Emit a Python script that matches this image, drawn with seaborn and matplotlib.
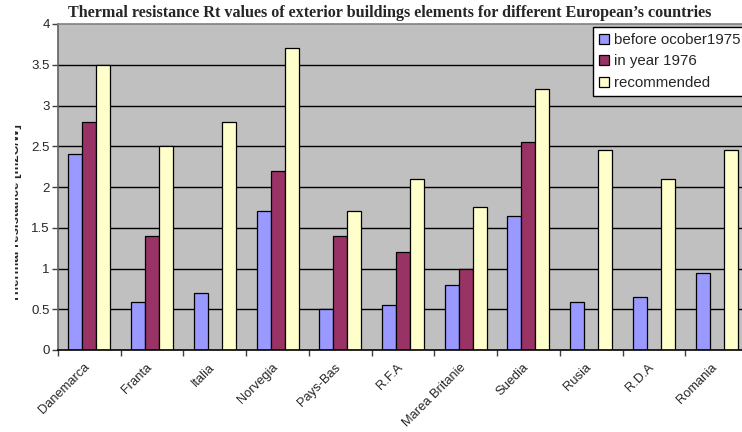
import matplotlib
matplotlib.use("Agg")
import matplotlib.pyplot as plt
import matplotlib.patches as mpatches
from matplotlib.transforms import Bbox, ScaledTranslation
import seaborn as sns
import pandas as pd
import numpy as np

countries = ["Danemarca", "Franta", "Italia", "Norvegia", "Pays-Bas", "R.F.A",
             "Marea Britanie", "Suedia", "Rusia", "R.D.A", "Romania"]
before_oct_1975 = [2.4, 0.59, 0.7, 1.7, 0.5, 0.55, 0.8, 1.64, 0.59, 0.65, 0.94]
year_1976 = [2.8, 1.4, np.nan, 2.2, 1.4, 1.2, 1.0, 2.55, np.nan, np.nan, np.nan]
recommended = [3.5, 2.5, 2.8, 3.7, 1.7, 2.1, 1.75, 3.2, 2.45, 2.1, 2.45]
series_names = ["before ocober1975", "in year 1976", "recommended"]
series_colors = ["#9999FF", "#993366", "#FFFFCC"]
y_ticks = [0, 0.5, 1, 1.5, 2, 2.5, 3, 3.5, 4]
y_tick_labels = ["0", "0.5", "1", "1.5", "2", "2.5", "3", "3.5", "4"]

df = pd.DataFrame({
    "country": countries * 3,
    "series": sum([[s] * len(countries) for s in series_names], []),
    "value": before_oct_1975 + year_1976 + recommended,
})

sns.set_style("white")
plt.rcParams["font.family"] = ["Liberation Sans", "DejaVu Sans"]

W, H = 742, 432
fig = plt.figure(figsize=(W / 100, H / 100), dpi=100)
fig.patch.set_facecolor("white")
ax = fig.add_axes([58 / W, 82 / H, 690 / W, 326 / H])
ax.set_facecolor("#C0C0C0")

sns.barplot(data=df, x="country", y="value", hue="series", order=countries,
            hue_order=series_names, palette=series_colors, width=0.67,
            edgecolor="black", linewidth=0.9, saturation=1, ax=ax,
            errorbar=None, zorder=3, legend=False)

ax.set_xlim(-0.5, len(countries) - 0.5)
ax.set_ylim(0, 4)

# horizontal gridlines
ax.set_yticks(y_ticks)
ax.set_yticklabels(y_tick_labels, fontsize=9.5)
for y in y_ticks[1:-1]:
    ax.axhline(y, color="black", lw=1.0, zorder=1)

ax.tick_params(axis="y", which="major", direction="out", length=4, width=1,
               color="#404040", left=True, pad=2)

# category labels at centres, tick marks at category boundaries
ax.set_xticks(range(len(countries)))
ax.set_xticklabels(countries, rotation=45, ha="right", rotation_mode="anchor",
                   fontsize=9.3)
ax.tick_params(axis="x", which="major", length=0, pad=8)
shift = ScaledTranslation(-6 / 100, 0, fig.dpi_scale_trans)
for lbl in ax.get_xticklabels():
    lbl.set_transform(lbl.get_transform() + shift)
ax.set_xticks(np.arange(-0.5, len(countries), 1.0), minor=True)
ax.tick_params(axis="x", which="minor", direction="out", length=4, width=1,
               color="#404040", bottom=True)

ax.set_xlabel("")
ax.set_ylabel("")
for side in ["top", "right"]:
    ax.spines[side].set_color("#808080")
    ax.spines[side].set_linewidth(1.2)
ax.spines["left"].set_color("#606060")
ax.spines["left"].set_linewidth(1.2)
ax.spines["bottom"].set_color("black")
ax.spines["bottom"].set_linewidth(1.2)
ax.spines["bottom"].set_zorder(5)

# axis title, trimmed on its left side by the chart frame
ylab = fig.text(22 / W, 1 - 213 / H, "Thermal resistance [m2C/W]",
                rotation=90, ha="right", va="center", fontsize=9.5,
                fontweight="bold")
ylab.set_clip_box(Bbox.from_extents(15, 0, W, H))
ylab.set_clip_on(True)

fig.text(390 / W, 1 - 13 / H,
         "Thermal resistance Rt values of exterior buildings elements for different European\u2019s countries",
         ha="center", va="center", fontsize=11.6, fontweight="bold",
         family=["Liberation Serif", "DejaVu Serif"])

handles = [mpatches.Patch(facecolor=c, edgecolor="black", linewidth=0.9, label=n)
           for n, c in zip(series_names, series_colors)]
leg = ax.legend(handles=handles, loc="upper left",
                bbox_to_anchor=((593 - 58) / 690, (350 - 27) / 326),
                frameon=True, fancybox=False, framealpha=1, edgecolor="black",
                fontsize=10.8, handlelength=0.65, handleheight=0.65,
                handletextpad=0.35, labelspacing=0.5, borderpad=0.4,
                borderaxespad=0)
leg.get_frame().set_linewidth(1.0)
leg.set_zorder(10)

fig.savefig("out.png", dpi=100, facecolor="white")
